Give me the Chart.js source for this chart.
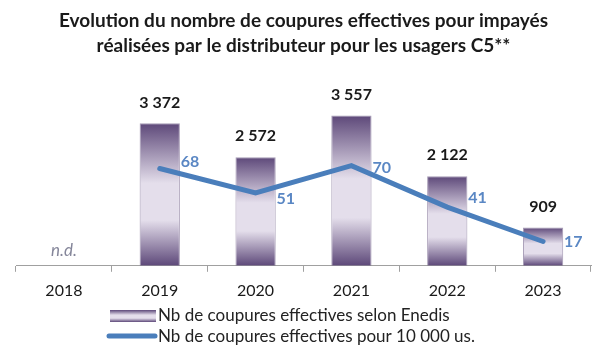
<!DOCTYPE html>
<html lang="fr">
<head>
<meta charset="utf-8">
<script src="https://cdn.jsdelivr.net/npm/chart.js@4.4.1/dist/chart.umd.min.js"></script>
<style>
    html, body { margin: 0; padding: 0; background: #ffffff; }
    #conteneur { width: 601px; height: 345px; }
</style>
</head>
<body>
<div id="conteneur"><canvas id="coupures"></canvas></div>
<script>
// Données
const annees = ['2018', '2019', '2020', '2021', '2022', '2023'];
const coupuresEnedis = [null, 3372, 2572, 3557, 2122, 909];
const coupuresPour10000 = [null, 68, 51, 70, 41, 17];
const titre = [
    'Evolution du nombre de coupures effectives pour impayés',
    'réalisées par le distributeur pour les usagers C5**'
];
const libelles = [
    'Nb de coupures effectives selon Enedis',
    'Nb de coupures effectives pour 10 000 us.'
];

const POLICE = 'Lato, "Open Sans", sans-serif';
const VIOLET = '#5d4879';
const LAVANDE = '#e4deeb';
const BLEU = '#4a7ebb';
const BLEU_TEXTE = '#5a87c4';

// décalage vertical des étiquettes de la courbe
const decalageCourbe = [0, -7, 6, 2, -9, 0];

function degradeBarre(ctx, haut, bas) {
    const g = ctx.createLinearGradient(0, haut, 0, bas);
    g.addColorStop(0, VIOLET);
    g.addColorStop(0.42, LAVANDE);
    g.addColorStop(0.68, LAVANDE);
    g.addColorStop(1, VIOLET);
    return g;
}

const formatNombre = v => String(v).replace(/\B(?=(\d{3})+(?!\d))/g, ' ');

// étiquettes de valeurs, "n.d." et légende en bas
const etiquettes = {
    id: 'etiquettes',
    afterDatasetsDraw(chart) {
        const ctx = chart.ctx;
        ctx.save();
        ctx.textBaseline = 'middle';

        chart.getDatasetMeta(0).data.forEach((barre, i) => {
            if (coupuresEnedis[i] == null) return;
            ctx.fillStyle = '#1a1a1a';
            ctx.font = 'bold 16px ' + POLICE;
            ctx.textAlign = 'center';
            ctx.fillText(formatNombre(coupuresEnedis[i]), barre.x, barre.y - 21);
        });

        chart.getDatasetMeta(1).data.forEach((pt, i) => {
            if (coupuresPour10000[i] == null) return;
            ctx.fillStyle = BLEU_TEXTE;
            ctx.font = 'bold 16px ' + POLICE;
            ctx.textAlign = 'left';
            ctx.fillText(coupuresPour10000[i], pt.x + 21, pt.y + decalageCourbe[i]);
        });

        // année sans donnée
        const x = chart.scales.x;
        ctx.fillStyle = '#85869a';
        ctx.font = 'italic 17px ' + POLICE;
        ctx.textAlign = 'center';
        ctx.fillText('n.d.', x.getPixelForValue(0), chart.chartArea.bottom - 15);

        // légende
        ctx.font = '17px ' + POLICE;
        ctx.fillStyle = '#222222';
        ctx.textAlign = 'left';
        ctx.fillText(libelles[0], 158, 316);
        ctx.fillText(libelles[1], 158, 337);

        ctx.fillStyle = degradeBarre(ctx, 310, 322);
        ctx.fillRect(110, 310, 46, 12);

        ctx.strokeStyle = BLEU;
        ctx.lineWidth = 5;
        ctx.lineCap = 'round';
        ctx.beginPath();
        ctx.moveTo(109, 336);
        ctx.lineTo(155, 336);
        ctx.stroke();
        ctx.restore();
    }
};

document.addEventListener('DOMContentLoaded', () => {
    new Chart(document.getElementById('coupures'), {
        data: {
            labels: annees,
            datasets: [{
                type: 'bar',
                label: libelles[0],
                data: coupuresEnedis,
                yAxisID: 'y',
                backgroundColor: c => {
                    const { chart, dataIndex } = c;
                    if (!chart.chartArea || coupuresEnedis[dataIndex] == null) return VIOLET;
                    const y = chart.scales.y;
                    return degradeBarre(chart.ctx, y.getPixelForValue(coupuresEnedis[dataIndex]), y.getPixelForValue(0));
                },
                borderColor: 'rgba(93, 72, 121, 0.55)',
                borderWidth: 1,
                categoryPercentage: 1,
                barPercentage: 0.42,
                order: 2
            }, {
                type: 'line',
                label: libelles[1],
                data: coupuresPour10000,
                yAxisID: 'y2',
                borderColor: BLEU,
                borderWidth: 5,
                borderCapStyle: 'round',
                pointRadius: 0,
                tension: 0,
                order: 1
            }]
        },
        options: {
            responsive: true,
            maintainAspectRatio: false,
            animation: false,
            layout: {
                padding: { left: 16, right: 10, top: 0, bottom: 36 }
            },
            plugins: {
                legend: { display: false },
                tooltip: { enabled: false },
                title: {
                    display: true,
                    text: titre,
                    color: '#1a1a1a',
                    font: { family: POLICE, size: 19, weight: 'bold', lineHeight: 1.32 },
                    padding: { top: 8, bottom: 26 }
                }
            },
            scales: {
                x: {
                    grid: {
                        drawOnChartArea: false,
                        drawTicks: true,
                        tickLength: 6,
                        color: '#a0a0a0'
                    },
                    border: { color: '#a0a0a0', width: 1 },
                    ticks: {
                        color: '#1a1a1a',
                        font: { family: POLICE, size: 16 },
                        padding: 9
                    }
                },
                y: {
                    display: false,
                    min: 0,
                    max: 4300
                },
                y2: {
                    display: false,
                    min: 0,
                    max: 127
                }
            }
        },
        plugins: [etiquettes]
    });
});
</script>
</body>
</html>
